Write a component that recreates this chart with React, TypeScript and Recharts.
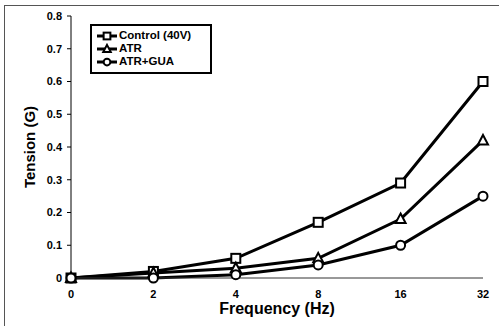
import { LineChart, Line, XAxis, YAxis } from 'recharts'

const frequencies = ['0', '2', '4', '8', '16', '32']
const control = [0, 0.02, 0.06, 0.17, 0.29, 0.6]
const atr = [0, 0.015, 0.03, 0.06, 0.18, 0.42]
const atrGua = [0, 0, 0.01, 0.04, 0.1, 0.25]
const yTicks = [0, 0.1, 0.2, 0.3, 0.4, 0.5, 0.6, 0.7, 0.8]

const data = frequencies.map((f, i) => ({
  freq: f,
  control: control[i],
  atr: atr[i],
  atrGua: atrGua[i],
}))

const FONT = '"Liberation Sans", Arial, sans-serif'

type Shape = 'square' | 'triangle' | 'circle'

function Marker({ cx, cy, shape, small }: { cx: number; cy: number; shape: Shape; small?: boolean }) {
  if (cx == null || cy == null) return null
  const k = small ? 0.75 : 1
  if (shape === 'square') {
    return <rect x={cx - 4.5 * k} y={cy - 4.5 * k} width={9 * k} height={9 * k} fill="#fff" stroke="#000" strokeWidth={2} />
  }
  if (shape === 'triangle') {
    return <polygon points={`${cx},${cy - 5.5 * k} ${cx + 5 * k},${cy + 4 * k} ${cx - 5 * k},${cy + 4 * k}`} fill="#fff" stroke="#000" strokeWidth={2} />
  }
  return <circle cx={cx} cy={cy} r={4.5 * k} fill="#fff" stroke="#000" strokeWidth={2} />
}

const series: { key: string; name: string; shape: Shape }[] = [
  { key: 'control', name: 'Control (40V)', shape: 'square' },
  { key: 'atr', name: 'ATR', shape: 'triangle' },
  { key: 'atrGua', name: 'ATR+GUA', shape: 'circle' },
]

function LegendBox() {
  return (
    <div style={{
      position: 'absolute', left: 90, top: 24, width: 122, height: 50, boxSizing: 'border-box',
      border: '2px solid #000', background: '#fff',
      fontFamily: FONT, fontWeight: 'bold', fontSize: 11.5, lineHeight: '13px', padding: '3px 4px',
    }}>
      {series.map(s => (
        <div key={s.key} style={{ display: 'flex', alignItems: 'center', height: 13 }}>
          <svg width={22} height={12} style={{ marginRight: 1 }}>
            <line x1={1} y1={6} x2={21} y2={6} stroke="#000" strokeWidth={3} />
            <Marker cx={11} cy={6} shape={s.shape} small />
          </svg>
          <span>{s.name}</span>
        </div>
      ))}
    </div>
  )
}

export default function App() {
  return (
    <div style={{ position: 'absolute', left: 0, top: 0, width: 499, height: 326, background: '#fff', overflow: 'hidden' }}>
      <div style={{ position: 'absolute', left: 4, top: 5, width: 494, height: 320, borderTop: '1px solid #555', borderLeft: '1px solid #555' }} />
      <LineChart width={499} height={326} data={data} margin={{ top: 16, right: 16, left: 21, bottom: 18 }}
        style={{ fontFamily: FONT }}>
        <XAxis dataKey="freq" axisLine={{ stroke: '#333', strokeWidth: 1 }} tickLine={false} tickSize={4} tickMargin={8}
          height={30} tick={{ fontSize: 11, fontWeight: 'bold', fill: '#000' }}
          label={{ value: 'Frequency (Hz)', position: 'bottom', offset: -5, style: { fontSize: 16, fontWeight: 'bold', fill: '#000' } }} />
        <YAxis domain={[0, 0.8]} ticks={yTicks} width={50} axisLine={{ stroke: '#000' }} tickLine={{ stroke: '#000' }}
          tickSize={4} tickMargin={5} tick={{ fontSize: 11, fontWeight: 'bold', fill: '#000' }}
          tickFormatter={(v: number) => String(v)}
          label={{ value: 'Tension (G)', angle: -90, position: 'insideLeft', offset: 9, style: { fontSize: 15, fontWeight: 'bold', fill: '#000', textAnchor: 'middle' } }} />
        {series.map(s => (
          <Line key={s.key} dataKey={s.key} name={s.name} stroke="#000" strokeWidth={3} isAnimationActive={false}
            dot={(p: any) => <Marker key={`${s.key}-${p.index}`} cx={p.cx} cy={p.cy} shape={s.shape} />}
            activeDot={false} />
        ))}
      </LineChart>
      <LegendBox />
    </div>
  )
}
